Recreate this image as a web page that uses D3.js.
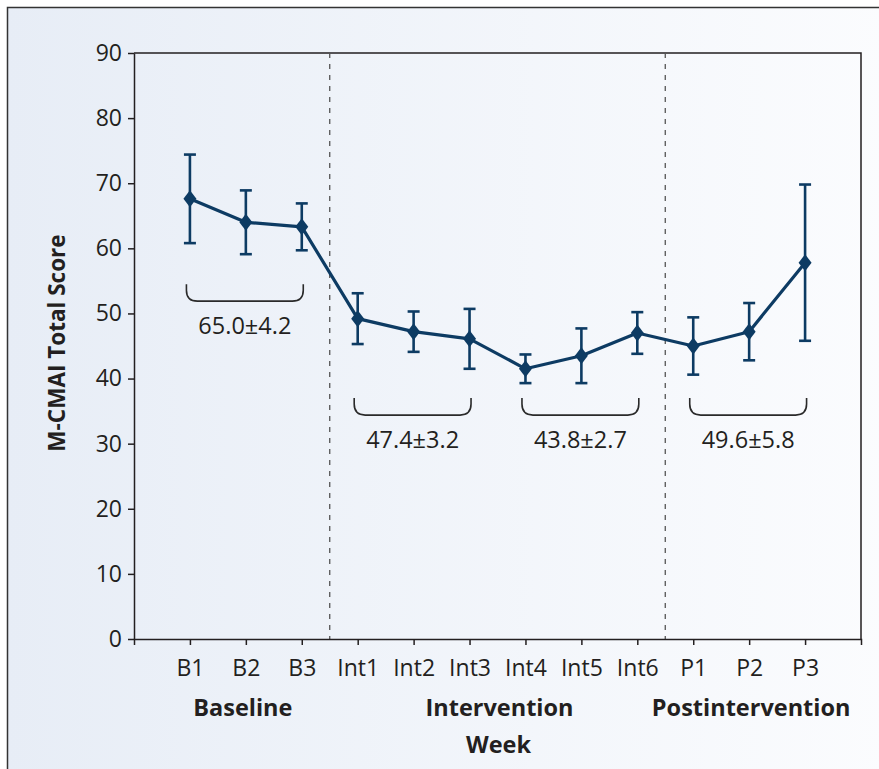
<!DOCTYPE html>
<html>
<head>
<meta charset="utf-8">
<script src="https://cdn.jsdelivr.net/npm/d3@7"></script>
<style>
  body { margin: 0; background: #fff; }
  text { font-family: "Open Sans", "Noto Sans", sans-serif; fill: #231f20; }
</style>
</head>
<body>
<div id="viz"></div>
<script>
const w = 879;
const h = 769;

// weeks and M-CMAI means with error bars
const categories = ['B1', 'B2', 'B3', 'Int1', 'Int2', 'Int3', 'Int4', 'Int5', 'Int6', 'P1', 'P2', 'P3'];
const means = [67.6, 64.0, 63.3, 49.2, 47.2, 46.1, 41.5, 43.5, 47.0, 45.0, 47.2, 57.8];
const errors = [6.8, 4.9, 3.6, 3.9, 3.1, 4.6, 2.2, 4.2, 3.2, 4.4, 4.4, 12.0];
const yTicks = [0, 10, 20, 30, 40, 50, 60, 70, 80, 90];

// phase labels under the axis
const phases = ['Baseline', 'Intervention', 'Postintervention'];
const phaseFirst = ['B1', 'Int1', 'P1'];
const phaseLast = ['B3', 'Int6', 'P3'];

// brackets with group means
const groupFirst = ['B1', 'Int1', 'Int4', 'P1'];
const groupLast = ['B3', 'Int3', 'Int6', 'P3'];
const groupLabels = ['65.0\u00b14.2', '47.4\u00b13.2', '43.8\u00b12.7', '49.6\u00b15.8'];
const groupLevels = [54.5, 37, 37, 37];

const navy = '#0d3b63';
const ink = '#231f20';

const margin = { left: 134, top: 53, right: 18, bottom: 130 };

const svg = d3.select('#viz').append('svg')
    .attr('width', w)
    .attr('height', h)

// panel background
const defs = svg.append('defs')
const grad = defs.append('linearGradient')
    .attr('id', 'bg')
    .attr('x1', '0%').attr('x2', '100%')
    .attr('y1', '0%').attr('y2', '0%')
grad.append('stop').attr('offset', '0%').attr('stop-color', '#e7edf6')
grad.append('stop').attr('offset', '100%').attr('stop-color', '#fbfcfe')

svg.append('rect')
    .attr('x', 7.5).attr('y', 7.5)
    .attr('width', w).attr('height', h)
    .attr('fill', 'url(#bg)')

svg.append('path')
    .attr('d', `M7.5,${h}V7.5H${w}`)
    .attr('fill', 'none')
    .attr('stroke', '#333')
    .attr('stroke-width', 1.5)

const x = d3.scalePoint()
    .domain(categories)
    .range([margin.left, w - margin.right])
    .padding(1)

const y = d3.scaleLinear()
    .domain([0, 90])
    .range([h - margin.bottom, margin.top])

// plot frame (top + right)
svg.append('path')
    .attr('d', `M${margin.left},${y(90)}H${w - margin.right}V${y(0)}`)
    .attr('fill', 'none')
    .attr('stroke', ink)
    .attr('stroke-width', 1.5)

// phase dividers
const dividers = [
    (x('B3') + x('Int1')) / 2,
    (x('Int6') + x('P1')) / 2
]
svg.selectAll('.divider')
    .data(dividers)
    .join('line')
    .attr('class', 'divider')
    .attr('x1', d => d).attr('x2', d => d)
    .attr('y1', y(90)).attr('y2', y(0))
    .attr('stroke', '#555')
    .attr('stroke-width', 1.3)
    .attr('stroke-dasharray', '5,6')

// axes
const xAxis = svg.append('g')
    .attr('transform', `translate(0,${y(0)})`)
    .call(d3.axisBottom(x).tickSize(6).tickSizeOuter(6).tickPadding(15))
xAxis.selectAll('text').attr('font-size', 23)

const yAxis = svg.append('g')
    .attr('transform', `translate(${margin.left},0)`)
    .call(d3.axisLeft(y).tickValues(yTicks).tickSize(6).tickSizeOuter(0).tickPadding(6))
yAxis.selectAll('text').attr('font-size', 23)

svg.selectAll('.domain, .tick line')
    .attr('stroke', ink)
    .attr('stroke-width', 1.5)
svg.selectAll('.tick text').style('fill', ink).attr('font-family', null)

// y title
svg.append('text')
    .attr('transform', `translate(65,${(y(0) + y(90)) / 2 - 3}) rotate(-90)`)
    .attr('text-anchor', 'middle')
    .attr('font-size', 22.5)
    .attr('font-weight', 'bold')
    .text('M-CMAI Total Score')

// phase labels
svg.selectAll('.phase')
    .data(phases)
    .join('text')
    .attr('class', 'phase')
    .attr('x', (d, i) => (x(phaseFirst[i]) + x(phaseLast[i])) / 2 + (i === 0 ? -3 : 2))
    .attr('y', 716)
    .attr('text-anchor', 'middle')
    .attr('font-size', 23.5)
    .attr('font-weight', 'bold')
    .text(d => d)

svg.append('text')
    .attr('x', (x('Int1') + x('Int6')) / 2 + 1)
    .attr('y', 753)
    .attr('text-anchor', 'middle')
    .attr('font-size', 23.5)
    .attr('font-weight', 'bold')
    .text('Week')

// group brackets
const bracket = (x0, x1, top) => {
    const bot = top + 17;
    const r = 11;
    return `M${x0},${top}V${bot - r}Q${x0},${bot} ${x0 + r},${bot}H${x1 - r}Q${x1},${bot} ${x1},${bot - r}V${top}`;
}

const groupG = svg.append('g')
groupG.selectAll('path')
    .data(groupLabels)
    .join('path')
    .attr('d', (d, i) => bracket(x(groupFirst[i]) - 3.5, x(groupLast[i]) + 1.5, y(groupLevels[i])))
    .attr('fill', 'none')
    .attr('stroke', '#2a2a2a')
    .attr('stroke-width', 1.6)

groupG.selectAll('text')
    .data(groupLabels)
    .join('text')
    .attr('x', (d, i) => (x(groupFirst[i]) + x(groupLast[i])) / 2 - 1)
    .attr('y', (d, i) => y(groupLevels[i]) + 50)
    .attr('text-anchor', 'middle')
    .attr('font-size', 23.5)
    .text(d => d)

// error bars
const points = categories.map((c, i) => ({ c: c, m: means[i], e: errors[i] }))

const errG = svg.append('g')
    .attr('stroke', navy)
    .attr('stroke-width', 2.6)
    .attr('fill', 'none')

errG.selectAll('.stem')
    .data(points)
    .join('line')
    .attr('class', 'stem')
    .attr('x1', d => x(d.c)).attr('x2', d => x(d.c))
    .attr('y1', d => y(d.m + d.e)).attr('y2', d => y(d.m - d.e))

errG.selectAll('.capTop')
    .data(points)
    .join('line')
    .attr('class', 'capTop')
    .attr('x1', d => x(d.c) - 6).attr('x2', d => x(d.c) + 6)
    .attr('y1', d => y(d.m + d.e)).attr('y2', d => y(d.m + d.e))

errG.selectAll('.capBot')
    .data(points)
    .join('line')
    .attr('class', 'capBot')
    .attr('x1', d => x(d.c) - 6).attr('x2', d => x(d.c) + 6)
    .attr('y1', d => y(d.m - d.e)).attr('y2', d => y(d.m - d.e))

// mean line
const line = d3.line()
    .x(d => x(d.c))
    .y(d => y(d.m))

svg.append('path')
    .datum(points)
    .attr('d', line)
    .attr('fill', 'none')
    .attr('stroke', navy)
    .attr('stroke-width', 3.2)
    .attr('stroke-linejoin', 'round')

// diamond markers
svg.selectAll('.marker')
    .data(points)
    .join('path')
    .attr('class', 'marker')
    .attr('transform', d => `translate(${x(d.c)},${y(d.m)})`)
    .attr('d', 'M0,-8.5L6.5,0L0,8.5L-6.5,0Z')
    .attr('fill', navy)
</script>
</body>
</html>
